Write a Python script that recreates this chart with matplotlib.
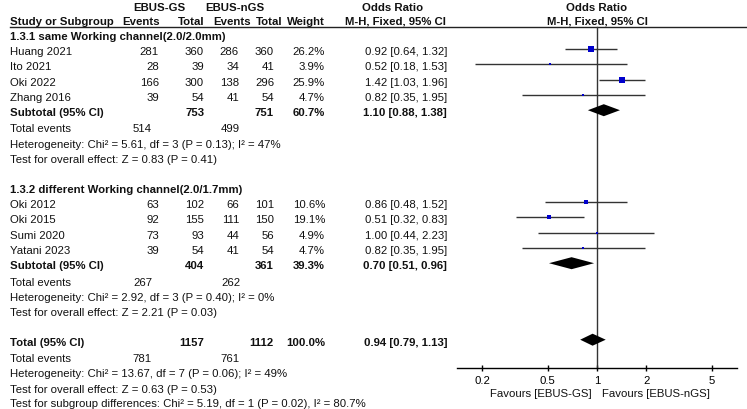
import numpy as np
import matplotlib
matplotlib.use("Agg")
import matplotlib.pyplot as plt
from matplotlib.ticker import NullLocator

plt.rcParams['font.family'] = ['Liberation Sans', 'DejaVu Sans']

# ---------------- data ----------------
studies_a = ["Huang 2021", "Ito 2021", "Oki 2022", "Zhang 2016"]
ev_gs_a = [281, 28, 166, 39]
tot_gs_a = [360, 39, 300, 54]
ev_ngs_a = [286, 34, 138, 41]
tot_ngs_a = [360, 41, 296, 54]
weight_a = [26.2, 3.9, 25.9, 4.7]
or_a = [0.92, 0.52, 1.42, 0.82]
lo_a = [0.64, 0.18, 1.03, 0.35]
hi_a = [1.32, 1.53, 1.96, 1.95]

studies_b = ["Oki 2012", "Oki 2015", "Sumi 2020", "Yatani 2023"]
ev_gs_b = [63, 92, 73, 39]
tot_gs_b = [102, 155, 93, 54]
ev_ngs_b = [66, 111, 44, 41]
tot_ngs_b = [101, 150, 56, 54]
weight_b = [10.6, 19.1, 4.9, 4.7]
or_b = [0.86, 0.51, 1.00, 0.82]
lo_b = [0.48, 0.32, 0.44, 0.35]
hi_b = [1.52, 0.83, 2.23, 1.95]

# subtotal / total: [tot_gs, tot_ngs, weight, OR, lo, hi, events_gs, events_ngs]
sub_a = [753, 751, 60.7, 1.10, 0.88, 1.38, 514, 499]
sub_b = [404, 361, 39.3, 0.70, 0.51, 0.96, 267, 262]
total = [1157, 1112, 100.0, 0.94, 0.79, 1.13, 781, 761]

het_a = "Heterogeneity: Chi² = 5.61, df = 3 (P = 0.13); I² = 47%"
z_a = "Test for overall effect: Z = 0.83 (P = 0.41)"
het_b = "Heterogeneity: Chi² = 2.92, df = 3 (P = 0.40); I² = 0%"
z_b = "Test for overall effect: Z = 2.21 (P = 0.03)"
het_t = "Heterogeneity: Chi² = 13.67, df = 7 (P = 0.06); I² = 49%"
z_t = "Test for overall effect: Z = 0.63 (P = 0.53)"
sub_test = "Test for subgroup differences: Chi² = 5.19, df = 1 (P = 0.02), I² = 80.7%"

ticks = [0.2, 0.5, 1, 2, 5]
tick_labels = ["0.2", "0.5", "1", "2", "5"]
group_a = "1.3.1 same Working channel(2.0/2.0mm)"
group_b = "1.3.2 different Working channel(2.0/1.7mm)"

# ---------------- layout (pixels) ----------------
W, H = 747, 409
FS = 8.2
X_NAME = 9.5
X_EVG, X_TOTG, X_EVN, X_TOTN, X_W, X_OR = 159, 204, 239, 274, 325, 447
X_TEG, X_TEN = 152, 240          # "Total events" numbers
ROW0, DY = 51, 15.3
AX_Y = 368
BLUE = "#0000cc"

fig = plt.figure(figsize=(W / 100, H / 100), dpi=100)
ax = fig.add_axes([0, 0, 1, 1])
ax.set_xlim(0, W)
ax.set_ylim(H, 0)
ax.axis("off")

# forest panel: log odds-ratio axis, rows share the pixel y of the table
axf = fig.add_axes([457 / W, 0, 280 / W, 1])
axf.set_xscale("log")
axf.set_xlim(10 ** -0.853, 10 ** 0.853)
axf.set_ylim(H, 0)
axf.patch.set_alpha(0)
for s in ["top", "left", "right"]:
    axf.spines[s].set_visible(False)
axf.spines["bottom"].set_position(("data", AX_Y))
axf.spines["bottom"].set_linewidth(1)
axf.set_yticks([])
axf.set_xticks(ticks)
axf.set_xticklabels(tick_labels)
axf.xaxis.set_minor_locator(NullLocator())
axf.tick_params(axis="x", direction="inout", length=4.5, width=1, labelsize=FS, pad=3.5)


def txt(x, y, s, ha="left", bold=False):
    ax.text(x, y + 4, s, ha=ha, va="baseline", fontsize=FS,
            fontweight="bold" if bold else "normal", color="#111")


def fmt_or(o, l, h):
    return f"{o:.2f} [{l:.2f}, {h:.2f}]"


# headers
txt(159, 7, "EBUS-GS", ha="center", bold=True)
txt(235, 7, "EBUS-nGS", ha="center", bold=True)
txt(393, 7, "Odds Ratio", ha="center", bold=True)
txt(597, 7, "Odds Ratio", ha="center", bold=True)
txt(X_NAME, 21, "Study or Subgroup", bold=True)
for x, s in zip([160, 204, 251, 283, 325], ["Events", "Total", "Events", "Total", "Weight"]):
    txt(x, 21, s, ha="right", bold=True)
txt(395, 21, "M-H, Fixed, 95% CI", ha="center", bold=True)
txt(597, 21, "M-H, Fixed, 95% CI", ha="center", bold=True)
ax.plot([X_NAME, W], [27, 27], color="#222", lw=1)


def study_rows(y0, names, eg, tg, en, tn, w, o, l, h):
    for i in range(len(names)):
        y = y0 + i * DY
        txt(X_NAME, y, names[i])
        txt(X_EVG, y, str(eg[i]), ha="right")
        txt(X_TOTG, y, str(tg[i]), ha="right")
        txt(X_EVN, y, str(en[i]), ha="right")
        txt(X_TOTN, y, str(tn[i]), ha="right")
        txt(X_W, y, f"{w[i]:.1f}%", ha="right")
        txt(X_OR, y, fmt_or(o[i], l[i], h[i]), ha="right")
        ym = y - 2
        axf.hlines(ym, l[i], h[i], color="#333", lw=1)
        side = 4.0 * np.sqrt(w[i] / 26.2)
        axf.scatter([o[i]], [ym], marker="s", s=side ** 2, color=BLUE, linewidths=0, zorder=3)


def summary_row(y, label, vals):
    tg, tn, w, o, l, h = vals[:6]
    txt(X_NAME, y, label, bold=True)
    txt(X_TOTG, y, str(tg), ha="right", bold=True)
    txt(X_TOTN, y, str(tn), ha="right", bold=True)
    txt(X_W, y, f"{w:.1f}%", ha="right", bold=True)
    txt(X_OR, y, fmt_or(o, l, h), ha="right", bold=True)
    ym = y - 2
    axf.fill([l, o, h, o], [ym, ym - 6, ym, ym + 6], color="black", lw=0, zorder=3)


def footer_rows(y, vals, het, z):
    txt(X_NAME, y, "Total events")
    txt(X_TEG, y, str(vals[6]), ha="right")
    txt(X_TEN, y, str(vals[7]), ha="right")
    txt(X_NAME, y + DY, het)
    txt(X_NAME, y + 2 * DY, z)


# subgroup A
txt(X_NAME, ROW0 - DY, group_a, bold=True)
study_rows(ROW0, studies_a, ev_gs_a, tot_gs_a, ev_ngs_a, tot_ngs_a, weight_a, or_a, lo_a, hi_a)
summary_row(ROW0 + 4 * DY, "Subtotal (95% CI)", sub_a)
footer_rows(ROW0 + 5 * DY + 1, sub_a, het_a, z_a)

# subgroup B
txt(X_NAME, ROW0 + 9 * DY, group_b, bold=True)
study_rows(ROW0 + 10 * DY, studies_b, ev_gs_b, tot_gs_b, ev_ngs_b, tot_ngs_b, weight_b, or_b, lo_b, hi_b)
summary_row(ROW0 + 14 * DY, "Subtotal (95% CI)", sub_b)
footer_rows(ROW0 + 15 * DY + 1, sub_b, het_b, z_b)

# overall
summary_row(ROW0 + 19 * DY, "Total (95% CI)", total)
footer_rows(ROW0 + 20 * DY + 1, total, het_t, z_t)
txt(X_NAME, ROW0 + 23 * DY, sub_test)

# line of no effect
axf.plot([1, 1], [27, AX_Y], color="#333", lw=1, zorder=2)

# favours labels
txt(592, 393, "Favours [EBUS-GS]", ha="right")
txt(602, 393, "Favours [EBUS-nGS]", ha="left")

fig.savefig("out.png", dpi=100)
